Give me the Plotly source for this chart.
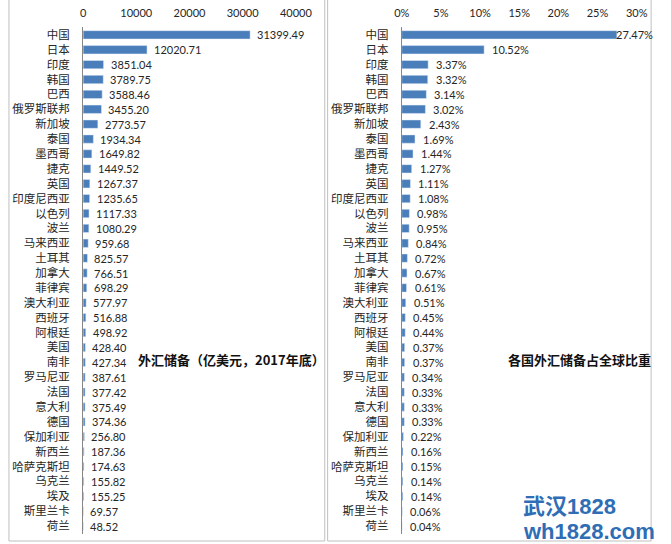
import plotly.graph_objects as go

countries = ["中国", "日本", "印度", "韩国", "巴西", "俄罗斯联邦", "新加坡", "泰国", "墨西哥", "捷克",
             "英国", "印度尼西亚", "以色列", "波兰", "马来西亚", "土耳其", "加拿大", "菲律宾", "澳大利亚", "西班牙",
             "阿根廷", "美国", "南非", "罗马尼亚", "法国", "意大利", "德国", "保加利亚", "新西兰", "哈萨克斯坦",
             "乌克兰", "埃及", "斯里兰卡", "荷兰"]
reserves = [31399.49, 12020.71, 3851.04, 3789.75, 3588.46, 3455.20, 2773.57, 1934.34, 1649.82, 1449.52,
            1267.37, 1235.65, 1117.33, 1080.29, 959.68, 825.57, 766.51, 698.29, 577.97, 516.88,
            498.92, 428.40, 427.34, 387.61, 377.42, 375.49, 374.36, 256.80, 187.36, 174.63,
            155.82, 155.25, 69.57, 48.52]
shares_pct = [27.47, 10.52, 3.37, 3.32, 3.14, 3.02, 2.43, 1.69, 1.44, 1.27,
              1.11, 1.08, 0.98, 0.95, 0.84, 0.72, 0.67, 0.61, 0.51, 0.45,
              0.44, 0.37, 0.37, 0.34, 0.33, 0.33, 0.33, 0.22, 0.16, 0.15,
              0.14, 0.14, 0.06, 0.04]
left_ticks = [0, 10000, 20000, 30000, 40000]
right_ticks = [0, 0.05, 0.10, 0.15, 0.20, 0.25, 0.30]
left_title = "外汇储备（亿美元，2017年底）"
right_title = "各国外汇储备占全球比重"

W, H = 671, 544
FONT = "Lato, Noto Sans CJK SC, sans-serif"
CJK = "Noto Sans CJK SC, sans-serif"
WM = "Liberation Sans, Noto Sans CJK SC, sans-serif"
BAR = "#4a7ebb"
TXT = "#262626"

def px(x):
    return x / W

def py(y):
    return 1 - y / H

shares = [v / 100 for v in shares_pct]

fig = go.Figure()
fig.add_trace(go.Bar(x=reserves, y=countries, orientation="h", marker_color=BAR,
                     width=0.56, xaxis="x", yaxis="y", showlegend=False))
fig.add_trace(go.Bar(x=shares, y=countries, orientation="h", marker_color=BAR,
                     width=0.56, xaxis="x2", yaxis="y2", showlegend=False))

annotations = []
for c, v in zip(countries, reserves):
    annotations.append(dict(x=v, y=c, xref="x", yref="y", text=f"{v:.2f}", showarrow=False,
                            xanchor="left", xshift=5, font=dict(family=FONT, size=11, color=TXT)))
for i, (c, v, p) in enumerate(zip(countries, shares, shares_pct)):
    shift = -3 if i == 0 else 6
    annotations.append(dict(x=v, y=c, xref="x2", yref="y2", text=f"{p:.2f}%", showarrow=False,
                            xanchor="left", xshift=shift, font=dict(family=FONT, size=11, color=TXT)))

annotations.append(dict(x=px(232), y=py(359), xref="paper", yref="paper", text=f"<b>{left_title}</b>",
                        xanchor="center", yanchor="middle",
                        showarrow=False, font=dict(family=CJK, size=13, color="#111")))
annotations.append(dict(x=px(594), y=py(359), xref="paper", yref="paper", text=f"<b>{right_title}</b>",
                        xanchor="center", yanchor="middle",
                        showarrow=False, font=dict(family=CJK, size=13, color="#111")))
annotations.append(dict(x=px(533), y=py(506), xref="paper", yref="paper", text="<b>武汉1828</b>",
                        xanchor="left", yanchor="middle", showarrow=False,
                        font=dict(family=WM, size=22, color="#2f6db5")))
annotations.append(dict(x=px(533), y=py(531), xref="paper", yref="paper", text="<b>wh1828.com</b>",
                        xanchor="left", yanchor="middle", showarrow=False,
                        font=dict(family=WM, size=22, color="#2f6db5")))

ydom = [py(533.5), py(25.5)]
common_x = dict(side="top", showgrid=False, zeroline=False, showline=False,
                ticks="outside", ticklen=5, tickcolor="rgba(0,0,0,0)",
                tickfont=dict(family=FONT, size=11, color=TXT))
common_y = dict(type="category", range=[33.5, -0.5], showgrid=False, zeroline=False,
                showline=True, linecolor="#868686", linewidth=1, ticks="outside", ticklen=10,
                tickcolor="rgba(0,0,0,0)", tickfont=dict(family=CJK, size=11.5, color=TXT))

shapes = [
    dict(type="rect", xref="paper", yref="paper", x0=px(1), x1=px(329), y0=py(541), y1=py(-5),
         line=dict(color="#bfbfbf", width=1), fillcolor="rgba(0,0,0,0)", layer="below"),
    dict(type="rect", xref="paper", yref="paper", x0=px(332), x1=px(668), y0=py(541), y1=py(-5),
         line=dict(color="#bfbfbf", width=1), fillcolor="rgba(0,0,0,0)", layer="below"),
]

fig.update_layout(
    width=W, height=H, autosize=False,
    margin=dict(l=0, r=0, t=0, b=0),
    paper_bgcolor="white", plot_bgcolor="white",
    bargap=0.44,
    xaxis=dict(domain=[px(78), px(299)], range=[0, 40000], tickvals=left_ticks,
               ticktext=[str(t) for t in left_ticks], anchor="y", **common_x),
    yaxis=dict(domain=ydom, anchor="x", **common_y),
    xaxis2=dict(domain=[px(409), px(653)], range=[0, 0.30], tickvals=right_ticks,
                tickformat=".0%", anchor="y2", **common_x),
    yaxis2=dict(domain=ydom, anchor="x2", **common_y),
    annotations=annotations,
    shapes=shapes,
)

fig.write_html("out.html")
